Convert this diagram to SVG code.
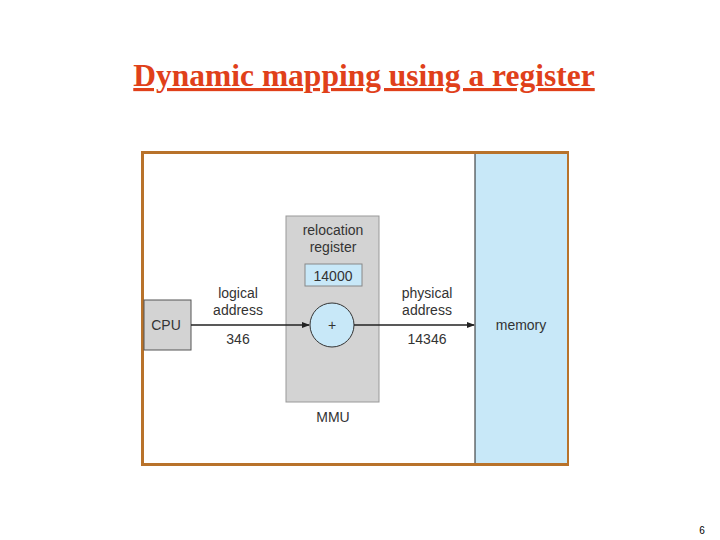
<svg xmlns="http://www.w3.org/2000/svg" width="720" height="540" viewBox="0 0 720 540">
<style>
text{font-family:"Liberation Sans",Arial,sans-serif;font-size:14px;fill:#333;text-anchor:middle}
.c{stroke:#222;stroke-width:1.3;fill:none}
</style>
<defs><marker id="a" markerWidth="8" markerHeight="8" refX="7" refY="4" orient="auto" markerUnits="userSpaceOnUse"><path d="M0,1 L8,4 L0,7 Z" fill="#222"/></marker></defs>
<rect width="720" height="540" fill="#fff"/>
<text x="364" y="86" style="font-family:'Liberation Serif',serif;font-size:31.5px;font-weight:bold;fill:#e0401a;text-decoration:underline">Dynamic mapping using a register</text>
<rect x="142.5" y="152.5" width="425" height="312" fill="#fff" stroke="#b8722a" stroke-width="3"/>
<g id="memory"><rect x="475" y="154" width="92" height="309" fill="#c8e8f8"/><line x1="475" y1="154" x2="475" y2="463" stroke="#222"/><text x="521" y="330">memory</text></g>
<g id="cpu"><rect x="144" y="300" width="47" height="50" fill="#d3d3d3" stroke="#555"/><text x="166" y="330">CPU</text></g>
<g id="mmu"><rect x="286" y="216" width="93" height="186" fill="#d3d3d3" stroke="#999"/>
<text x="333" y="235">relocation</text><text x="333" y="252">register</text>
<rect x="305" y="264" width="57" height="22" fill="#c8e8f8" stroke="#888"/><text x="333" y="281">14000</text>
<circle cx="332" cy="325" r="22" fill="#c8e8f8" stroke="#333"/><text x="332" y="330">+</text>
<text x="333" y="422">MMU</text></g>
<g id="connectors"><line class="c" x1="191" y1="325" x2="309" y2="325" marker-end="url(#a)"/><line class="c" x1="354" y1="325" x2="474" y2="325" marker-end="url(#a)"/></g>
<text x="238" y="298">logical</text><text x="238" y="315">address</text><text x="238" y="344">346</text>
<text x="427" y="298">physical</text><text x="427" y="315">address</text><text x="427" y="344">14346</text>
<text x="702" y="534" style="font-size:10px;fill:#000">6</text>
</svg>
